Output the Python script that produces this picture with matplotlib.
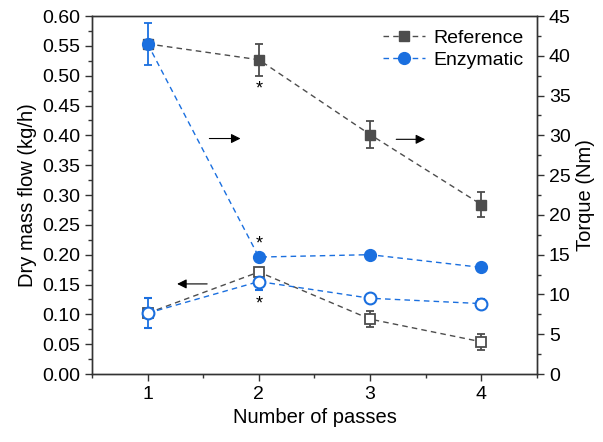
import numpy as np
import matplotlib.pyplot as plt
from matplotlib.lines import Line2D
from matplotlib.ticker import MultipleLocator, AutoMinorLocator

plt.rcParams['font.family'] = ['Liberation Sans', 'DejaVu Sans']
plt.rcParams['font.size'] = 14

# Data
passes = [1, 2, 3, 4]
# dry mass flow (kg/h), left axis, open markers
flow_ref = [0.102, 0.171, 0.092, 0.054]
flow_ref_err = [0.0, 0.007, 0.013, 0.013]
flow_enz = [0.102, 0.155, 0.127, 0.118]
flow_enz_err = [0.025, 0.015, 0.004, 0.008]
# torque (Nm), right axis, filled markers
torque_ref = [41.5, 39.5, 30.1, 21.3]
torque_ref_err = [0.0, 2.0, 1.7, 1.6]
torque_enz = [41.5, 14.7, 15.0, 13.4]
torque_enz_err = [2.6, 0.3, 0.3, 0.3]

grey = '#4d4d4d'
blue = '#1a6fdf'

fig = plt.figure(figsize=(6.03, 4.42), dpi=100)
ax = fig.add_axes([0.1526, 0.1538, 0.7379, 0.81])
ax2 = ax.twinx()

common = dict(linestyle=(0, (4, 3)), linewidth=1.0, capsize=3, elinewidth=1.3, capthick=1.3)

# left axis: flow (open markers)
ax.errorbar(passes, flow_ref, yerr=flow_ref_err, color=grey, marker='s', markersize=7.5,
            markerfacecolor='white', markeredgewidth=1.3, **common)
ax.errorbar(passes, flow_enz, yerr=flow_enz_err, color=blue, marker='o', markersize=8.5,
            markerfacecolor='white', markeredgewidth=1.5, **common)

# right axis: torque (filled markers)
ax2.errorbar(passes, torque_ref, yerr=torque_ref_err, color=grey, marker='s', markersize=7.5, **common)
ax2.errorbar(passes, torque_enz, yerr=torque_enz_err, color=blue, marker='o', markersize=8.5, **common)

ax.set_xlim(0.5, 4.5)
ax.set_ylim(0, 0.6)
ax2.set_ylim(0, 45)
ax.set_xticks(passes)
ax.xaxis.set_minor_locator(MultipleLocator(0.5))
ax.yaxis.set_major_locator(MultipleLocator(0.05))
ax.yaxis.set_minor_locator(AutoMinorLocator(2))
ax2.yaxis.set_major_locator(MultipleLocator(5))
ax2.yaxis.set_minor_locator(AutoMinorLocator(2))
ax.yaxis.set_major_formatter(lambda v, p: '{:.2f}'.format(v))

for a in (ax, ax2):
    a.tick_params(which='major', direction='out', length=5, width=1, colors='#333333',
                  labelcolor='black', labelsize=14)
    a.tick_params(which='minor', direction='out', length=3, width=1, colors='#333333')
    for s in a.spines.values():
        s.set_color('#333333')
        s.set_linewidth(1.0)

ax.set_xlabel('Number of passes', fontsize=14.5, labelpad=4)
ax.set_ylabel('Dry mass flow (kg/h)', fontsize=14.5, labelpad=4)
ax2.set_ylabel('Torque (Nm)', fontsize=14.5, labelpad=4)

# asterisks
ax2.text(2, 35.8, '*', ha='center', va='center', fontsize=13)
ax2.text(2, 16.3, '*', ha='center', va='center', fontsize=13)
ax.text(2, 0.117, '*', ha='center', va='center', fontsize=13)

# arrows pointing to axes
arrow = dict(arrowstyle='-|>', color='black', lw=0.8, mutation_scale=14)
ax2.annotate('', xy=(1.86, 29.6), xytext=(1.53, 29.6), arrowprops=arrow)
ax2.annotate('', xy=(3.52, 29.5), xytext=(3.21, 29.5), arrowprops=arrow)
ax.annotate('', xy=(1.24, 0.151), xytext=(1.56, 0.151), arrowprops=arrow)

handles = [
    Line2D([], [], color=grey, linestyle=(0, (4, 3)), linewidth=1.0, marker='s', markersize=7.5),
    Line2D([], [], color=blue, linestyle=(0, (4, 3)), linewidth=1.0, marker='o', markersize=8.5),
]
ax2.legend(handles, ['Reference', 'Enzymatic'], loc='upper right', frameon=False, fontsize=14,
           handlelength=2.2, borderaxespad=0.3, handletextpad=0.4, labelspacing=0.2)

fig.savefig('out.png', dpi=100)
